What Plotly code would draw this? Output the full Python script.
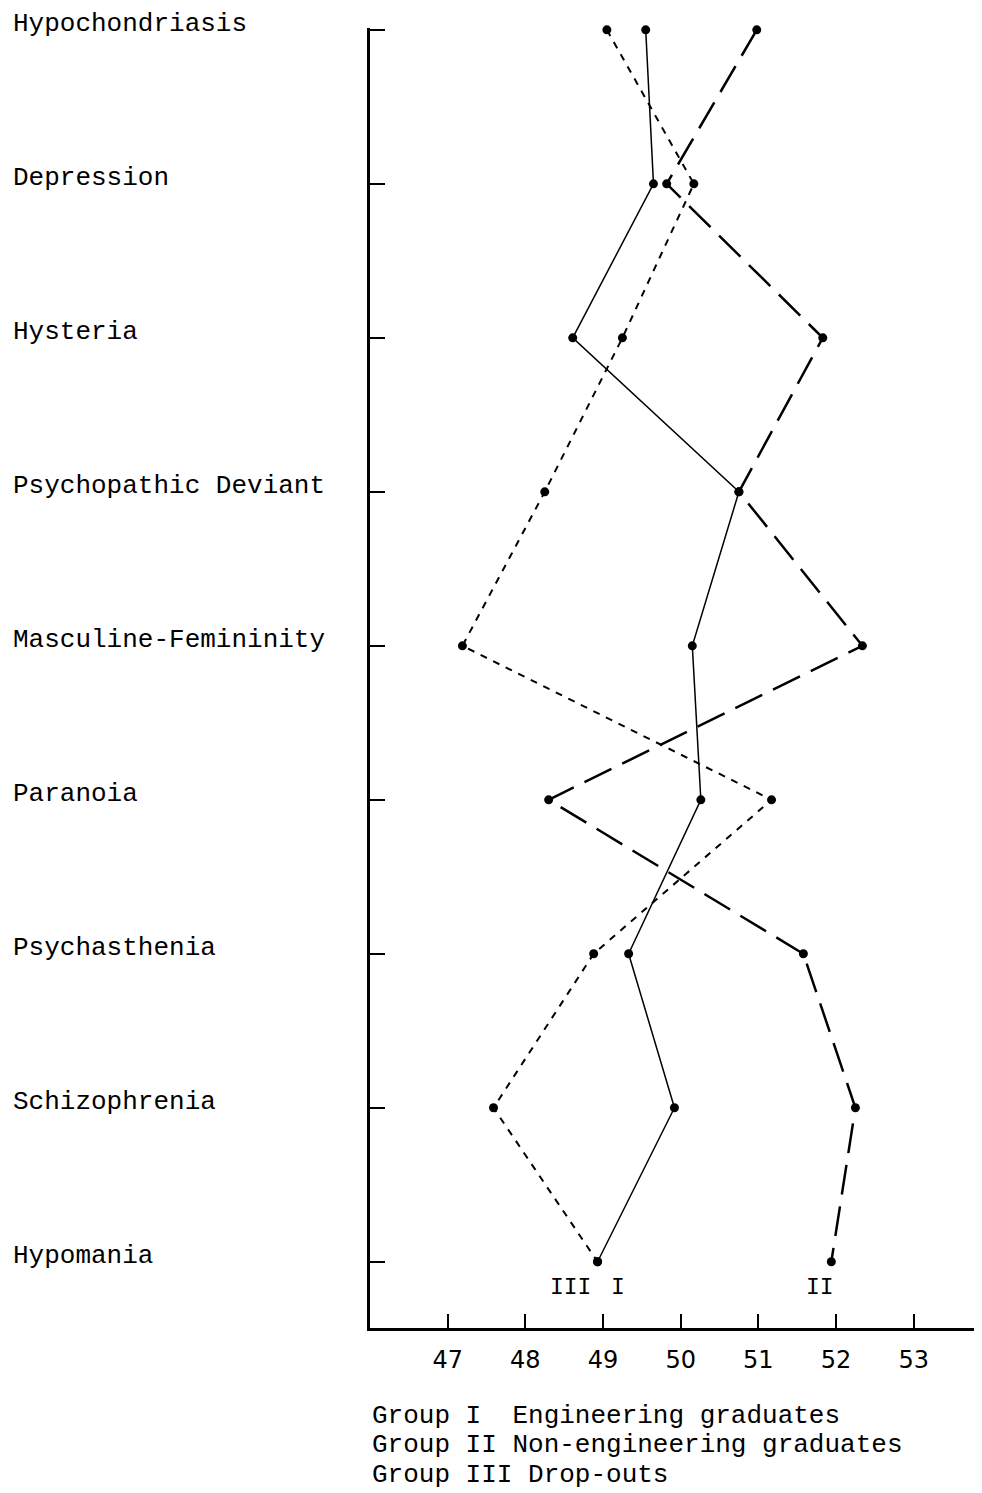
import plotly.graph_objects as go

categories = ["Hypochondriasis", "Depression", "Hysteria", "Psychopathic Deviant",
              "Masculine-Femininity", "Paranoia", "Psychasthenia", "Schizophrenia", "Hypomania"]
group_i = [49.55, 49.65, 48.61, 50.75, 50.15, 50.26, 49.33, 49.92, 48.93]
group_ii = [50.98, 49.82, 51.83, 50.75, 52.34, 48.30, 51.58, 52.25, 51.94]
group_iii = [49.05, 50.17, 49.25, 48.25, 47.19, 51.17, 48.88, 47.59, 48.93]
x_ticks = [47, 48, 49, 50, 51, 52, 53]
end_labels = ["III", "I", "II"]
end_label_x = [48.58, 49.19, 51.79]
legend_lines = ["Group I\u00a0\u00a0Engineering graduates",
                "Group II Non-engineering graduates",
                "Group III Drop-outs"]

ypos = list(range(len(categories)))
FONT = "Liberation Mono"

fig = go.Figure()
fig.add_trace(go.Scatter(x=group_iii, y=ypos, mode="lines+markers",
                         line=dict(color="black", width=2, dash="7px,7px"),
                         marker=dict(color="black", size=9), cliponaxis=False))
fig.add_trace(go.Scatter(x=group_i, y=ypos, mode="lines+markers",
                         line=dict(color="black", width=1.5),
                         marker=dict(color="black", size=9), cliponaxis=False))
fig.add_trace(go.Scatter(x=group_ii, y=ypos, mode="lines+markers",
                         line=dict(color="black", width=2.5, dash="30px,12px"),
                         marker=dict(color="black", size=9), cliponaxis=False))

annotations = []
for i, c in enumerate(categories):
    annotations.append(dict(x=-0.587, xref="paper", y=i, yref="y", text=c,
                            showarrow=False, xanchor="left", yanchor="middle", yshift=6,
                            font=dict(family=FONT, size=26, color="black")))
for t, xv in zip(end_labels, end_label_x):
    annotations.append(dict(x=xv, xref="x", y=8.17, yref="y", text=t,
                            showarrow=False, xanchor="center", yanchor="middle",
                            font=dict(family=FONT, size=23, color="black")))
for k, t in enumerate(legend_lines):
    annotations.append(dict(x=0, xref="paper", y=(1328 - (1416 + 29.5 * k)) / 1300, yref="paper",
                            text=t, showarrow=False, xanchor="left", yanchor="middle",
                            font=dict(family=FONT, size=26, color="black")))

# the page body has an 8px margin, so the figure is sized/offset to compensate
fig.update_layout(
    width=974, height=1485,
    margin=dict(l=362, r=0, t=20, b=165),
    paper_bgcolor="white", plot_bgcolor="white",
    showlegend=False,
    annotations=annotations,
    xaxis=dict(range=[46.0, 53.88], tickvals=x_ticks, ticktext=[str(v) for v in x_ticks],
               ticks="inside", ticklen=14, tickwidth=2, tickcolor="black",
               showline=True, linecolor="black", linewidth=3,
               showgrid=False, zeroline=False, ticklabelstandoff=8,
               tickfont=dict(family="DejaVu Sans", size=24, color="black")),
    yaxis=dict(range=[8.43, -0.012], tickvals=ypos, showticklabels=False,
               ticks="inside", ticklen=15, tickwidth=2, tickcolor="black",
               showline=True, linecolor="black", linewidth=3,
               showgrid=False, zeroline=False),
)

fig.write_html("out.html")
